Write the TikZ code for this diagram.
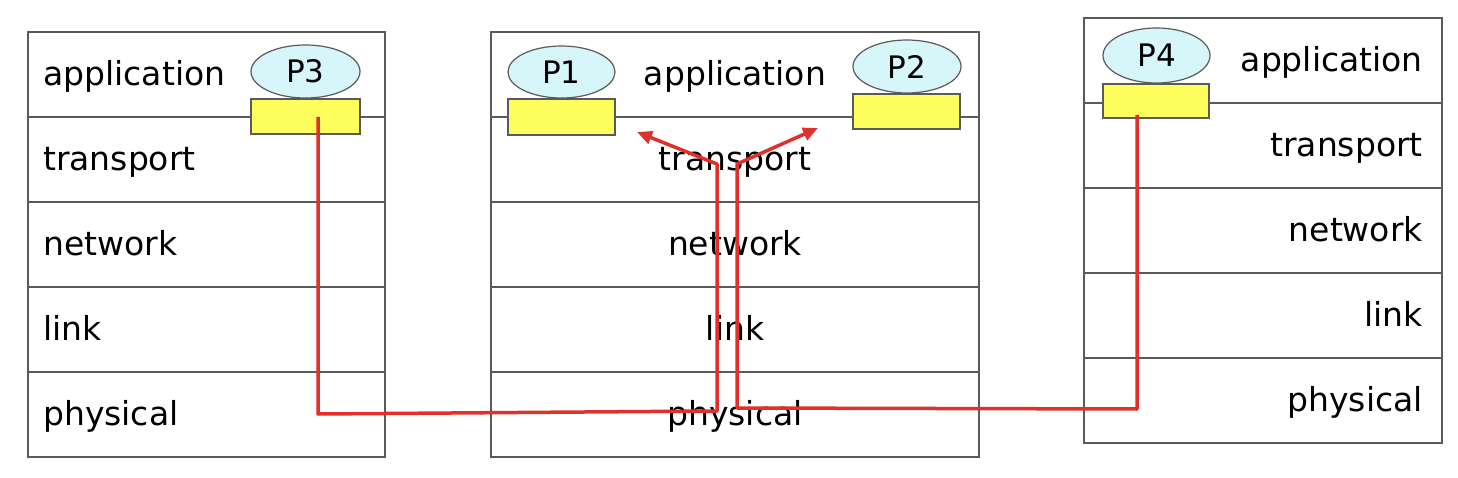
\documentclass[tikz,border=0pt]{standalone}
\usepackage{fontspec}
\setmainfont{DejaVu Sans}
\usetikzlibrary{arrows.meta}
\definecolor{boxgray}{HTML}{5A5A5A}
\definecolor{procfill}{HTML}{D6F6FA}
\definecolor{sockfill}{HTML}{FEFE5C}
\definecolor{linkred}{HTML}{E0302A}
\tikzset{
  layer/.style={draw=boxgray, line width=1.5pt, minimum height=85pt, inner sep=0pt, outer sep=0pt},
  lbl/.style={font=\fontsize{33}{36}\selectfont, inner sep=0pt},
  proc/.style={ellipse, draw=boxgray, line width=1.2pt, fill=procfill, inner sep=0pt,
               font=\fontsize{31}{34}\selectfont},
  sock/.style={draw=boxgray, line width=1.2pt, fill=sockfill, inner sep=0pt},
  flow/.style={draw=linkred, line width=3.5pt, line join=round},
  flowtip/.style={flow, -{Triangle[length=15pt,width=13pt]}}
}
\usetikzlibrary{shapes.geometric}
\begin{document}
\begin{tikzpicture}[x=1pt,y=-1pt]
\useasboundingbox (0,0) rectangle (1458,478);
% ---------- left host ----------
\foreach \i/\cy in {1/74.5,2/159.5,3/244.5,4/329.5,5/414.5}{
  \node[layer, minimum width=357pt] (L\i) at (206.5,\cy) {};
}
\node[lbl, anchor=base west] (Lt1) at (43,85.5) {application};
\node[lbl, anchor=base west] (Lt2) at (43,170.5) {transport};
\node[lbl, anchor=base west] (Lt3) at (43,255.5) {network};
\node[lbl, anchor=base west] (Lt4) at (43,340.5) {link};
\node[lbl, anchor=base west] (Lt5) at (43,425.5) {physical};
% ---------- middle host ----------
\foreach \i/\cy in {1/74.5,2/159.5,3/244.5,4/329.5,5/414.5}{
  \node[layer, minimum width=488pt] (M\i) at (735,\cy) {};
}
\node[lbl, anchor=base] (Mt1) at (735,85.5) {application};
\node[lbl, anchor=base] (Mt2) at (735,170.5) {transport};
\node[lbl, anchor=base] (Mt3) at (735,255.5) {network};
\node[lbl, anchor=base] (Mt4) at (735,340.5) {link};
\node[lbl, anchor=base] (Mt5) at (735,425.5) {physical};
% ---------- right host ----------
\foreach \i/\cy in {1/60.5,2/145.5,3/230.5,4/315.5,5/400.5}{
  \node[layer, minimum width=358pt] (R\i) at (1263,\cy) {};
}
\node[lbl, anchor=base east] (Rt1) at (1423,71.5) {application};
\node[lbl, anchor=base east] (Rt2) at (1423,156.5) {transport};
\node[lbl, anchor=base east] (Rt3) at (1423,241.5) {network};
\node[lbl, anchor=base east] (Rt4) at (1423,326.5) {link};
\node[lbl, anchor=base east] (Rt5) at (1423,411.5) {physical};
% ---------- processes and sockets ----------
\node[proc, minimum width=109pt, minimum height=53pt] (P3) at (305.5,71.5) {P3};
\node[sock, minimum width=109pt, minimum height=35pt] (S3) at (305.5,116.5) {};
\node[proc, minimum width=107pt, minimum height=52pt] (P1) at (561.5,72) {P1};
\node[sock, minimum width=107pt, minimum height=36pt] (S1) at (561.5,117) {};
\node[proc, minimum width=108pt, minimum height=53pt] (P2) at (907,66.5) {P2};
\node[sock, minimum width=107pt, minimum height=35pt] (S2) at (906.5,111.5) {};
\node[proc, minimum width=107pt, minimum height=55pt] (P4) at (1156.5,55.5) {P4};
\node[sock, minimum width=106pt, minimum height=34pt] (S4) at (1156,101) {};
% ---------- flows ----------
\coordinate (s3) at (318,117);
\coordinate (s4) at (1137,115);
\coordinate (a1) at (318,414);
\coordinate (a2) at (717,411);
\coordinate (a3) at (717,164);
\coordinate (t1) at (637,132);
\coordinate (b1) at (1137,409);
\coordinate (b2) at (737,408);
\coordinate (b3) at (737,164);
\coordinate (t2) at (818,128);
\draw[flowtip] (s3) -- (a1) -- (a2) -- (a3) -- (t1);
\draw[flowtip] (s4) -- (b1) -- (b2) -- (b3) -- (t2);
\end{tikzpicture}
\end{document}
